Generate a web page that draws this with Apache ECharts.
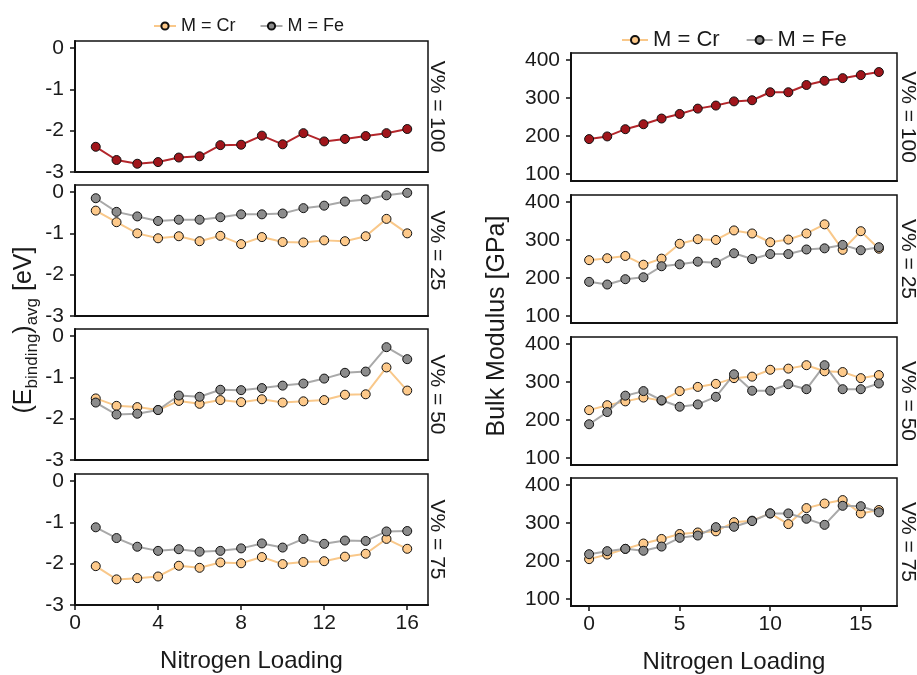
<!DOCTYPE html>
<html>
<head>
<meta charset="utf-8">
<script src="https://cdn.jsdelivr.net/npm/echarts@6/dist/echarts.min.js"></script>
<style>
html,body{margin:0;padding:0;background:#fff;}
#c{width:917px;height:675px;}
</style>
</head>
<body>
<div id="c"></div>
<script>
// ---- Data ----
const xLeft = [1,2,3,4,5,6,7,8,9,10,11,12,13,14,15,16];
const xRight = [0,1,2,3,4,5,6,7,8,9,10,11,12,13,14,15,16];
const leftTicksX = [0,4,8,12,16];
const rightTicksX = [0,5,10,15];
const leftTicksY = [-3,-2,-1,0];
const rightTicksY = [100,200,300,400];
const stripLabels = ['V% = 100','V% = 25','V% = 50','V% = 75'];

const eb100  = [-2.39,-2.71,-2.80,-2.76,-2.65,-2.62,-2.35,-2.34,-2.12,-2.33,-2.06,-2.26,-2.20,-2.13,-2.06,-1.96];
const ebCr25 = [-0.45,-0.73,-1.00,-1.12,-1.07,-1.19,-1.06,-1.26,-1.09,-1.21,-1.22,-1.17,-1.19,-1.07,-0.65,-1.00];
const ebFe25 = [-0.15,-0.48,-0.59,-0.70,-0.67,-0.67,-0.61,-0.54,-0.54,-0.52,-0.39,-0.33,-0.23,-0.18,-0.08,-0.02];
const ebCr50 = [-1.51,-1.69,-1.72,-1.79,-1.57,-1.64,-1.55,-1.60,-1.53,-1.61,-1.58,-1.55,-1.42,-1.41,-0.76,-1.32];
const ebFe50 = [-1.61,-1.90,-1.88,-1.79,-1.44,-1.47,-1.30,-1.31,-1.26,-1.20,-1.15,-1.03,-0.89,-0.86,-0.27,-0.56];
const ebCr75 = [-2.06,-2.38,-2.35,-2.31,-2.05,-2.10,-1.97,-1.99,-1.84,-2.01,-1.96,-1.94,-1.83,-1.76,-1.40,-1.64];
const ebFe75 = [-1.12,-1.38,-1.59,-1.69,-1.65,-1.71,-1.69,-1.63,-1.51,-1.61,-1.40,-1.52,-1.44,-1.45,-1.22,-1.21];

const bm100  = [192,199,218,231,246,258,272,280,291,294,315,315,334,345,352,360,368];
const bmCr25 = [247,252,258,235,251,290,302,300,325,317,294,301,317,341,274,323,277];
const bmFe25 = [190,183,197,202,231,236,243,240,265,250,263,263,275,278,287,273,281];
const bmCr50 = [226,239,249,259,251,276,287,295,310,314,332,335,344,328,326,310,318];
const bmFe50 = [189,221,264,276,252,235,241,261,320,277,277,294,281,344,281,281,296];
const bmCr75 = [205,217,232,246,258,271,275,278,302,306,325,297,339,351,360,325,334];
const bmFe75 = [218,226,232,227,238,261,267,289,290,305,325,325,311,295,345,344,328];

// ---- Layout ----
const FONT = 'Liberation Sans, Arial, sans-serif';
const leftTops = [41,185,329,474];
const leftH = 131;
const rightTops = [53,195,337,478];
const rightH = 128;
const LX = 75, LW = 353, RX = 571, RW = 326;

const colCr = {line:'#f9c88a', fill:'#fdc98a'};
const colFe = {line:'#a9a9a9', fill:'#8c8c8c'};
const colV  = {line:'#b3262b', fill:'#a0151b'};

function pairs(xs, ys){ return xs.map((x,i)=>[x, ys[i]]); }

const grids = [], xAxes = [], yAxes = [], series = [], graphics = [];

function addPanel(idx, side, isBottom){
  const left = side === 'L';
  const top = left ? leftTops[idx] : rightTops[idx];
  const h = left ? leftH : rightH;
  grids.push({left: left?LX:RX, top: top, width: left?LW:RW, height: h,
    show:true, borderColor:'#111', borderWidth:1.5, backgroundColor:'#fff'});
  const gi = grids.length-1;
  xAxes.push({
    type:'value', gridIndex:gi, min: left?0:-1, max:17,
    axisLine:{show:true, onZero:false, lineStyle:{color:'#111', width:2}},
    axisTick:{show:isBottom, length:5, lineStyle:{color:'#111', width:1.5}, customValues: left?leftTicksX:rightTicksX},
    axisLabel:{show:isBottom, fontSize:21, color:'#1a1a1a', fontFamily:FONT, margin:8, customValues: left?leftTicksX:rightTicksX},
    splitLine:{show:false},
    name: isBottom ? 'Nitrogen Loading' : '',
    nameLocation:'middle', nameGap:44,
    nameTextStyle:{fontSize:24, color:'#1a1a1a', fontFamily:FONT}
  });
  yAxes.push({
    type:'value', gridIndex:gi, min: left?-3:82, max: left?0.17:418,
    axisLine:{show:true, onZero:false, lineStyle:{color:'#111', width:2}},
    axisTick:{show:true, length:5, lineStyle:{color:'#111', width:1.5}, customValues: left?leftTicksY:rightTicksY},
    axisLabel:{show:true, fontSize:21, color:'#1a1a1a', fontFamily:FONT, margin:11, customValues: left?leftTicksY:rightTicksY},
    splitLine:{show:false}
  });
  graphics.push({
    type:'text', x: left?437:908, y: top + h/2, rotation:-Math.PI/2,
    style:{text: stripLabels[idx], font:'21px '+FONT, fill:'#1a1a1a', textAlign:'center', textVerticalAlign:'middle'}
  });
  return gi;
}

function lineSeries(name, gi, data, col){
  return {
    name:name, type:'line', xAxisIndex:gi, yAxisIndex:gi, data:data,
    symbol:'circle', symbolSize:9, showSymbol:true, animation:false,
    lineStyle:{color:col.line, width:2},
    itemStyle:{color:col.fill, borderColor:'#111', borderWidth:1}
  };
}

const leftCr = [null, ebCr25, ebCr50, ebCr75];
const leftFe = [null, ebFe25, ebFe50, ebFe75];
const rightCr = [null, bmCr25, bmCr50, bmCr75];
const rightFe = [null, bmFe25, bmFe50, bmFe75];

for (let i=0;i<4;i++){
  const gi = addPanel(i,'L', i===3);
  if (i===0){ series.push(lineSeries('V', gi, pairs(xLeft, eb100), colV)); }
  else {
    series.push(lineSeries('M = Cr', gi, pairs(xLeft, leftCr[i]), colCr));
    series.push(lineSeries('M = Fe', gi, pairs(xLeft, leftFe[i]), colFe));
  }
}
for (let i=0;i<4;i++){
  const gi = addPanel(i,'R', i===3);
  if (i===0){ series.push(lineSeries('V', gi, pairs(xRight, bm100), colV)); }
  else {
    series.push(lineSeries('M = Cr', gi, pairs(xRight, rightCr[i]), colCr));
    series.push(lineSeries('M = Fe', gi, pairs(xRight, rightFe[i]), colFe));
  }
}

// Y axis titles
graphics.push({
  type:'text', x:24, y:330, rotation:Math.PI/2,
  style:{
    text:'{a|(E}{s|binding}{a|)}{s|avg}{a| [eV]}',
    textAlign:'center', textVerticalAlign:'middle', fill:'#1a1a1a',
    rich:{
      a:{fontSize:25, fontFamily:FONT, fill:'#1a1a1a', lineHeight:34, verticalAlign:'middle'},
      s:{fontSize:17, fontFamily:FONT, fill:'#1a1a1a', lineHeight:17, verticalAlign:'bottom'}
    }
  }
});
graphics.push({
  type:'text', x:497, y:326, rotation:Math.PI/2,
  style:{text:'Bulk Modulus [GPa]', font:'25px '+FONT, fill:'#1a1a1a', textAlign:'center', textVerticalAlign:'middle'}
});

const chart = echarts.init(document.getElementById('c'), null, {renderer:'canvas'});
chart.setOption({
  animation:false,
  backgroundColor:'#fff',
  legend:[
    {data:['M = Cr','M = Fe'], left:148, top:12, itemWidth:22, itemHeight:9, itemGap:24,
     textStyle:{fontSize:18, color:'#1a1a1a', fontFamily:FONT}, selectedMode:false},
    {data:['M = Cr','M = Fe'], left:616, top:24, itemWidth:26, itemHeight:10, itemGap:26,
     textStyle:{fontSize:22, color:'#1a1a1a', fontFamily:FONT}, selectedMode:false}
  ],
  grid:grids, xAxis:xAxes, yAxis:yAxes, series:series, graphic:graphics
});
</script>
</body>
</html>
